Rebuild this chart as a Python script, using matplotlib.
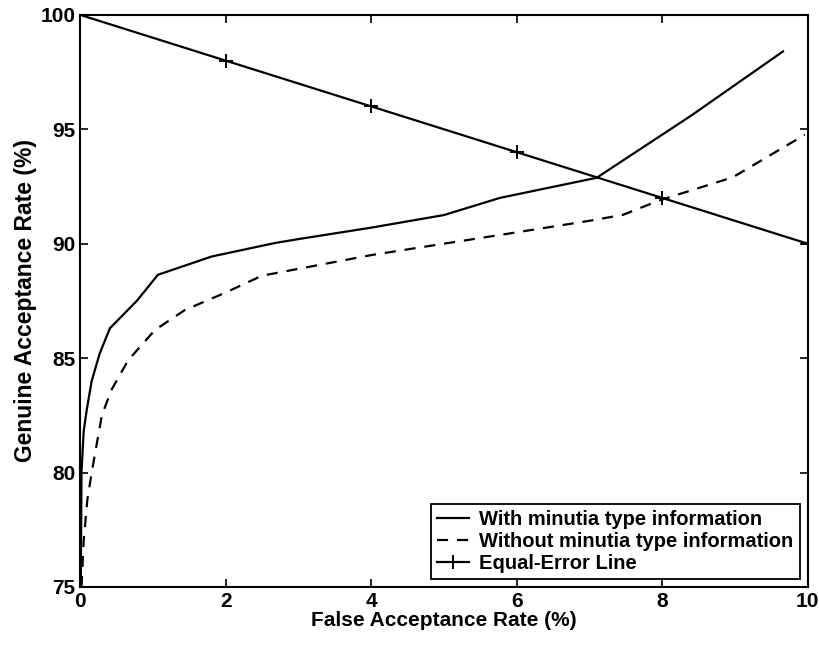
import numpy as np
import matplotlib.pyplot as plt

plt.rcParams['font.family'] = ['Liberation Sans', 'DejaVu Sans']
plt.rcParams['font.weight'] = 'bold'

# with minutia type information
far_with = [0.01, 0.02, 0.05, 0.09, 0.16, 0.27, 0.41, 0.78, 1.07, 1.81, 2.68, 3.0, 4.0, 5.0, 5.77, 7.1, 8.4, 9.66]
gar_with = [75.0, 80.0, 81.8, 82.7, 84.0, 85.2, 86.3, 87.5, 88.64, 89.44, 90.03, 90.2, 90.7, 91.25, 92.0, 92.88, 95.6, 98.4]

# without minutia type information
far_wo = [0.02, 0.05, 0.1, 0.16, 0.3, 0.43, 0.66, 1.03, 1.44, 1.99, 2.5, 3.0, 4.0, 5.0, 5.77, 7.0, 7.46, 7.97, 8.97, 9.96]
gar_wo = [75.0, 77.0, 78.8, 80.0, 82.5, 83.6, 84.9, 86.23, 87.1, 87.85, 88.6, 88.9, 89.5, 90.0, 90.38, 91.0, 91.26, 91.9, 92.9, 94.76]

# equal-error line
far_eq = [0, 2, 4, 6, 8, 10]
gar_eq = [100, 98, 96, 94, 92, 90]

fig = plt.figure(figsize=(8.2, 6.45), dpi=100)
ax = fig.add_axes([0.0976, 0.09, 0.8874, 0.887])

ax.plot(far_with, gar_with, 'k-', lw=1.6, label='With minutia type information')
ax.plot(far_wo, gar_wo, 'k--', lw=1.6, dashes=(5, 4), label='Without minutia type information')
ax.plot(far_eq, gar_eq, 'k-', lw=1.6, marker='+', ms=10, mew=1.4, label='Equal-Error Line')

ax.set_xlim(0, 10)
ax.set_ylim(75, 100)
ax.set_xticks(np.arange(0, 11, 2))
ax.set_yticks(np.arange(75, 101, 5))
ax.tick_params(direction='in', top=True, right=True, length=6, width=1.2, labelsize=15)
for s in ax.spines.values():
    s.set_linewidth(1.5)

ax.set_xlabel('False Acceptance Rate (%)', fontsize=15, fontweight='bold', labelpad=0)
ax.set_ylabel('Genuine Acceptance Rate (%)', fontsize=16.5, fontweight='bold', labelpad=2)

leg = ax.legend(loc='lower right', prop={'size': 14.5, 'weight': 'bold'}, fancybox=False,
                framealpha=1, edgecolor='black', handlelength=1.6, handletextpad=0.5,
                borderpad=0.3, labelspacing=0.15, borderaxespad=0.4)
leg.get_frame().set_linewidth(1.3)

fig.savefig('out.png', dpi=100)
